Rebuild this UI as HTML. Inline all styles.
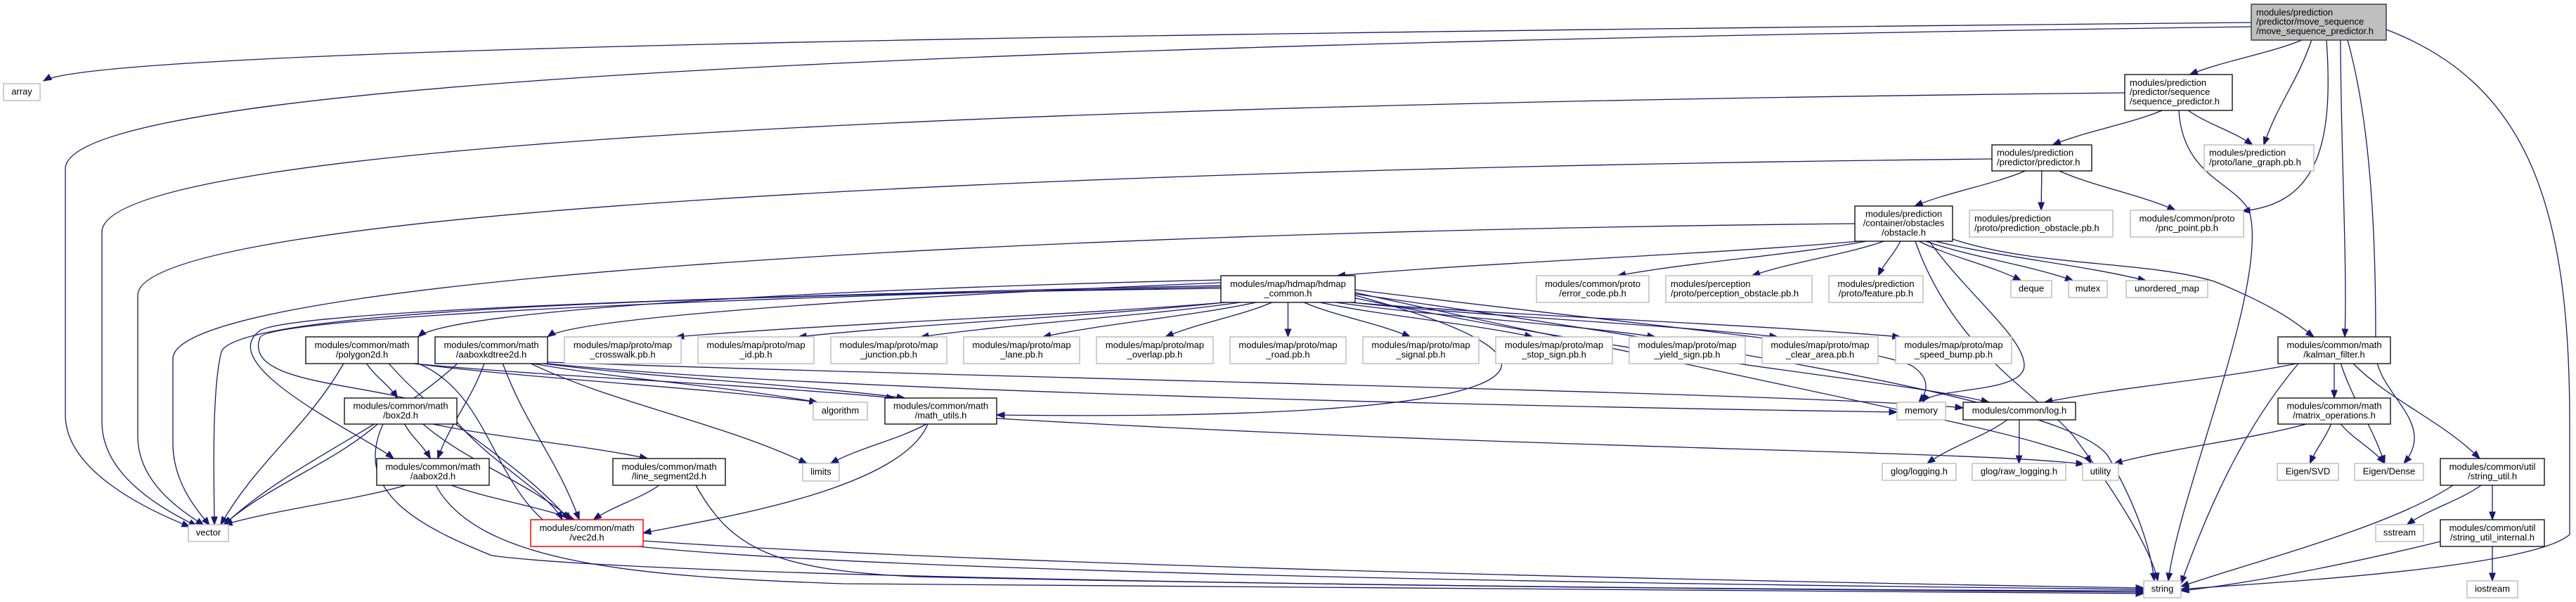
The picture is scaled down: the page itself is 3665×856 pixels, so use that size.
<!DOCTYPE html>
<html><head><meta charset="utf-8"><style>
html,body{margin:0;padding:0;background:#fff;}
svg{display:block;}
text{font-family:"Liberation Sans",Arial,sans-serif;font-size:13px;fill:#000;}
</style></head><body>
<svg id="g" width="3665" height="856" xmlns="http://www.w3.org/2000/svg">
<g id="edges" fill="none" stroke="#191970" stroke-width="1.3"></g>
<g id="arrows" fill="#191970" stroke="#191970"></g>
<g id="nodes"></g>
</svg>
<script>
(function(){
var N={
main:[3203,3395,6,57,"main",["modules/prediction","/predictor/move_sequence","/move_sequence_predictor.h"],1],
seq:[3023,3176,106,157,"b",["modules/prediction","/predictor/sequence","/sequence_predictor.h"],1],
pred:[2834,2976,206,243,"b",["modules/prediction","/predictor/predictor.h"],1],
lane_graph:[3136,3292,206,243,"g",["modules/prediction","/proto/lane_graph.pb.h"],1],
array:[5,57,119,143,"g",["array"]],
obstacle:[2639,2778,293,343,"b",["modules/prediction","/container/obstacles","/obstacle.h"]],
pobs:[2802,3006,299,337,"g",["modules/prediction","/proto/prediction_obstacle.pb.h"],1],
pnc:[3031,3192,299,337,"g",["modules/common/proto","/pnc_point.pb.h"]],
hdmap:[1737,1928,392,430,"b",["modules/map/hdmap/hdmap","_common.h"]],
err:[2186,2346,392,430,"g",["modules/common/proto","/error_code.pb.h"]],
perc:[2370,2578,392,430,"g",["modules/perception","/proto/perception_obstacle.pb.h"],1],
feat:[2602,2736,392,430,"g",["modules/prediction","/proto/feature.pb.h"]],
deque:[2861,2919,399,423,"g",["deque"]],
mutex:[2943,2998,399,423,"g",["mutex"]],
umap:[3025,3141,399,423,"g",["unordered_map"]],
poly:[435,595,479,517,"b",["modules/common/math","/polygon2d.h"]],
kd:[619,779,479,517,"b",["modules/common/math","/aaboxkdtree2d.h"]],
cw:[803,969,479,517,"g",["modules/map/proto/map","_crosswalk.pb.h"]],
id:[993,1158,479,517,"g",["modules/map/proto/map","_id.pb.h"]],
junc:[1182,1347,479,517,"g",["modules/map/proto/map","_junction.pb.h"]],
lane:[1371,1536,479,517,"g",["modules/map/proto/map","_lane.pb.h"]],
ovl:[1560,1726,479,517,"g",["modules/map/proto/map","_overlap.pb.h"]],
road:[1750,1915,479,517,"g",["modules/map/proto/map","_road.pb.h"]],
sig:[1939,2104,479,517,"g",["modules/map/proto/map","_signal.pb.h"]],
stop:[2128,2294,479,517,"g",["modules/map/proto/map","_stop_sign.pb.h"]],
yld:[2318,2483,479,517,"g",["modules/map/proto/map","_yield_sign.pb.h"]],
clr:[2507,2672,479,517,"g",["modules/map/proto/map","_clear_area.pb.h"]],
spd:[2697,2862,479,517,"g",["modules/map/proto/map","_speed_bump.pb.h"]],
kal:[3241,3401,479,517,"b",["modules/common/math","/kalman_filter.h"]],
box:[490,650,566,603,"b",["modules/common/math","/box2d.h"]],
mu:[1259,1418,566,603,"b",["modules/common/math","/math_utils.h"]],
mo:[3241,3401,566,603,"b",["modules/common/math","/matrix_operations.h"]],
alg:[1157,1234,572,597,"g",["algorithm"]],
mem:[2699,2768,572,597,"g",["memory"]],
log:[2793,2953,572,597,"b",["modules/common/log.h"]],
aab:[536,696,652,690,"b",["modules/common/math","/aabox2d.h"]],
ls:[872,1032,652,690,"b",["modules/common/math","/line_segment2d.h"]],
su:[3472,3620,652,690,"b",["modules/common/util","/string_util.h"]],
lim:[1142,1194,659,684,"g",["limits"]],
glog:[2678,2783,659,683,"g",["glog/logging.h"]],
raw:[2806,2939,659,683,"g",["glog/raw_logging.h"]],
util:[2963,3014,659,683,"g",["utility"]],
svd:[3240,3327,659,683,"g",["Eigen/SVD"]],
dense:[3350,3448,659,683,"g",["Eigen/Dense"]],
vec2d:[755,915,739,777,"r",["modules/common/math","/vec2d.h"]],
sui:[3472,3620,739,777,"b",["modules/common/util","/string_util_internal.h"]],
vector:[268,325,746,770,"g",["vector"]],
ss:[3380,3448,746,770,"g",["sstream"]],
string:[3050,3103,826,850,"g",["string"]],
ios:[3510,3582,826,850,"g",["iostream"]]
};
var E=[
["main","array","M3203,32 C1500,48 140,70 62,115"],
["main","vector","M3203,38 C1500,62 93,110 93,240 L93,590 C93,670 210,725 270,749"],
["seq","vector","M3023,132 C1500,148 145,200 145,330 L145,600 C145,680 240,728 280,748"],
["pred","vector","M2834,226 C1500,240 196,300 196,420 L196,620 C196,690 265,730 290,747"],
["obstacle","vector","M2639,318 C1400,330 246,400 246,510 L246,630 C246,690 285,730 298,747"],
["hdmap","vector","M1737,410 C1000,420 340,440 315,500 C300,560 305,700 305,746"],
["main","seq"],["main","lane_graph"],["main","pnc","M3310,57 C3320,200 3300,290 3190,300"],
["main","kal","M3330,57 C3330,200 3340,380 3336,479"],
["main","dense","M3340,57 C3380,200 3380,400 3380,500 C3380,560 3470,600 3420,659"],
["main","string","M3395,42 C3600,120 3656,300 3656,600 L3656,760 C3600,810 3200,830 3103,838"],
["seq","pred"],["seq","lane_graph"],["seq","string","M3100,157 C3105,250 3180,260 3200,300 C3230,400 3100,700 3085,826"],
["pred","obstacle"],["pred","pobs"],["pred","pnc"],
["obstacle","hdmap"],["obstacle","err"],["obstacle","perc"],["obstacle","feat"],["obstacle","deque"],["obstacle","mutex"],["obstacle","umap"],
["obstacle","kal","M2778,340 C2900,380 3050,370 3150,400 C3250,440 3280,470 3292,479"],
["obstacle","string","M2725,343 C2780,500 2900,560 2950,620 C3010,700 3060,780 3070,826"],
["obstacle","mem","M2745,343 C2800,420 2880,480 2880,520 C2880,560 2750,550 2735,572"],
["hdmap","poly","M1737,398 C1200,410 640,440 595,479"],
["hdmap","kd","M1737,402 C1300,420 820,450 779,479"],
["hdmap","cw"],["hdmap","id"],["hdmap","junc"],["hdmap","lane"],["hdmap","ovl"],["hdmap","road"],["hdmap","sig"],["hdmap","stop"],["hdmap","yld"],["hdmap","clr"],["hdmap","spd"],
["hdmap","aab","M1737,406 C1100,420 420,440 370,470 C300,520 520,620 560,652"],
["hdmap","vec2d","M1737,408 C1100,420 380,450 370,480 C340,560 600,540 650,600 C700,660 780,700 800,739"],
["hdmap","mu","M1928,420 C2300,520 2200,600 1418,590"],
["hdmap","string","M1928,418 C2500,500 2960,580 3000,650 C3040,720 3060,780 3065,826"],
["hdmap","mem","M1928,412 C2400,470 2650,490 2720,520 C2750,540 2740,560 2730,572"],
["hdmap","util","M1928,416 C2400,520 2800,600 2900,630 C2950,645 2970,650 2975,659"],
["hdmap","log","M1928,424 C2400,520 2700,540 2830,572"],
["poly","box"],["poly","vector"],["poly","vec2d"],["poly","string","M595,517 C700,560 700,700 800,760 C1000,820 2800,835 3050,838"],["poly","alg"],["poly","mu"],
["kd","aab"],["kd","vec2d"],["kd","mu"],["kd","alg"],["kd","lim"],["kd","mem","M779,517 C1200,560 2300,580 2699,586"],["kd","vector"],["kd","log","M779,515 C1500,540 2600,560 2793,580"],
["box","aab"],["box","ls"],["box","vec2d"],["box","vector"],["box","string","M545,603 C500,700 600,750 700,790 C1000,830 2800,840 3050,842"],
["aab","vector"],["aab","vec2d"],["aab","string","M620,690 C680,800 900,820 1200,830 C2000,840 2800,842 3050,844"],
["ls","vec2d"],["ls","string","M990,690 C1040,780 1100,810 1300,820 C2000,835 2800,840 3050,840"],
["mu","lim"],["mu","vec2d","M1320,603 C1280,700 1000,740 915,758"],["mu","util","M1418,595 C2200,640 2800,640 2965,660"],
["vec2d","string","M915,769 C1500,810 2800,832 3050,836"],
["kal","log"],["kal","mo"],["kal","dense"],["kal","su"],["kal","string","M3270,517 C3200,600 3150,700 3103,830"],
["log","glog"],["log","raw"],
["mo","util"],["mo","svd"],["mo","dense"],
["su","string","M3490,690 C3400,750 3200,800 3103,834"],["su","ss"],["su","sui"],
["sui","string","M3472,770 C3350,800 3200,830 3103,840"],["sui","ios"]
];
var NS="http://www.w3.org/2000/svg";
function el(t,a,p){var e=document.createElementNS(NS,t);for(var k in a)e.setAttribute(k,a[k]);p.appendChild(e);return e;}
function cl(v,a,b){return Math.max(a,Math.min(b,v));}
var eg=document.getElementById("edges"),ag=document.getElementById("arrows"),ng=document.getElementById("nodes");
E.forEach(function(e){
 var s=N[e[0]],d=N[e[1]],p,c2x,c2y,ex,ey;
 if(e[2]){p=e[2];
  var nums=p.match(/-?\d+(\.\d+)?/g).map(Number);var L=nums.length;
  ex=nums[L-2];ey=nums[L-1];c2x=nums[L-4];c2y=nums[L-3];
 } else {
  var scx=(s[0]+s[1])/2,dcx=(d[0]+d[1])/2;
  var sx=cl(scx+(dcx-scx)*0.12,s[0]+6,s[1]-6),sy=s[3];
  ex=cl(dcx+(scx-dcx)*0.08,d[0]+6,d[1]-6);ey=d[2];
  var dy=ey-sy;
  if(dy<10){
   if(dcx<scx){sx=s[0];ex=d[1];}else{sx=s[1];ex=d[0];}
   sy=(s[2]+s[3])/2;ey=(d[2]+d[3])/2;
   c2x=(sx+ex)/2;c2y=ey;
   p="M"+sx+","+sy+" C"+((sx+ex)/2)+","+sy+" "+c2x+","+c2y+" "+ex+","+ey;
  } else {
   c2x=ex+(sx-ex)*0.3;c2y=ey-dy*0.4;
   p="M"+sx+","+sy+" C"+(sx+(ex-sx)*0.3)+","+(sy+dy*0.4)+" "+c2x+","+c2y+" "+ex+","+ey;
  }
 }
 el("path",{d:p},eg);
 var vx=ex-c2x,vy=ey-c2y,l=Math.sqrt(vx*vx+vy*vy)||1;vx/=l;vy/=l;
 var bx=ex-vx*11,by=ey-vy*11,px=-vy*4.2,py=vx*4.2;
 el("polygon",{points:ex+","+ey+" "+(bx+px)+","+(by+py)+" "+(bx-px)+","+(by-py)},ag);
});
for(var k in N){var n=N[k],x=n[0],y=n[2],w=n[1]-n[0],h=n[3]-n[2];
 var st=n[4],fill="#fff",stroke="#000",sw=1.3;
 if(st=="g"){stroke="#bfbfbf";sw=1.5;}
 if(st=="r"){stroke="#ff0000";sw=1.5;}
 if(st=="main"){fill="#bfbfbf";stroke="#404040";sw=1.5;}
 el("rect",{x:x,y:y,width:w,height:h,fill:fill,stroke:stroke,"stroke-width":sw},ng);
 var lines=n[5],nl=lines.length,left=n[6];
 var lh=13.3,ty=y+h/2-(nl*lh)/2+lh-3;
 for(var i=0;i<nl;i++){
  var a=left?{x:x+7,y:ty+i*lh,"text-anchor":"start"}:{x:x+w/2,y:ty+i*lh,"text-anchor":"middle"};
  el("text",a,ng).textContent=lines[i];
 }
}
})();
</script>
</body></html>
